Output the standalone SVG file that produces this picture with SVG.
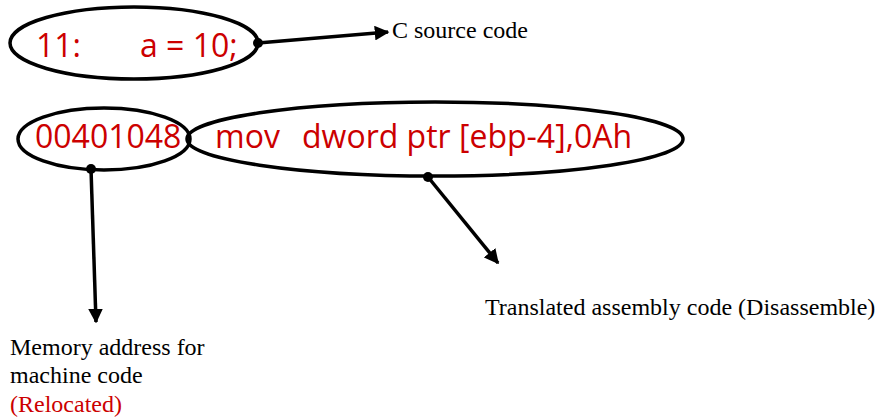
<svg xmlns="http://www.w3.org/2000/svg" width="877" height="420" viewBox="0 0 877 420">
<style>
.node ellipse{fill:none;stroke:#000;stroke-width:3.5}
.code{font-family:"Open Sans","Liberation Sans",sans-serif;font-size:32px;fill:#cc0000}
.lab{font-family:"Liberation Serif","Times New Roman",serif;font-size:24px;fill:#000}
.red{fill:#cc0000}
.conn line{stroke:#000;stroke-width:3.5}
.dot{fill:#000}
</style>
<defs>
<marker id="ah" viewBox="0 0 10 10" refX="9" refY="5" markerWidth="4.2" markerHeight="4.2" orient="auto" markerUnits="strokeWidth">
<path d="M0,0 L10,5 L0,10 z" fill="#000"/>
</marker>
</defs>
<rect width="877" height="420" fill="#fff"/>
<g id="source" class="node">
<ellipse cx="134" cy="43" rx="124" ry="36"/>
<text class="code" x="36" y="57">11:</text>
<text class="code" x="140" y="57">a = 10;</text>
</g>
<g id="address" class="node">
<ellipse cx="104" cy="139" rx="86" ry="31"/>
<text class="code" x="35" y="148">00401048</text>
</g>
<g id="assembly" class="node">
<ellipse cx="435" cy="139" rx="248" ry="37"/>
<text class="code" x="215" y="148">mov</text>
<text class="code" x="302" y="148">dword ptr [ebp-4],0Ah</text>
</g>
<g id="connectors" class="conn">
<line x1="258" y1="43" x2="388" y2="32" marker-end="url(#ah)"/>
<circle class="dot" cx="258" cy="43" r="5"/>
<line x1="91" y1="169" x2="96" y2="322" marker-end="url(#ah)"/>
<circle class="dot" cx="91" cy="169" r="5"/>
<line x1="428" y1="177" x2="498" y2="263" marker-end="url(#ah)"/>
<circle class="dot" cx="428" cy="177" r="5"/>
</g>
<g id="labels">
<text class="lab" x="392" y="38">C source code</text>
<text class="lab" x="10" y="355">Memory address for</text>
<text class="lab" x="10" y="383">machine code</text>
<text class="lab red" x="10" y="412">(Relocated)</text>
<text class="lab" x="485" y="315">Translated assembly code (Disassemble)</text>
</g>
</svg>
